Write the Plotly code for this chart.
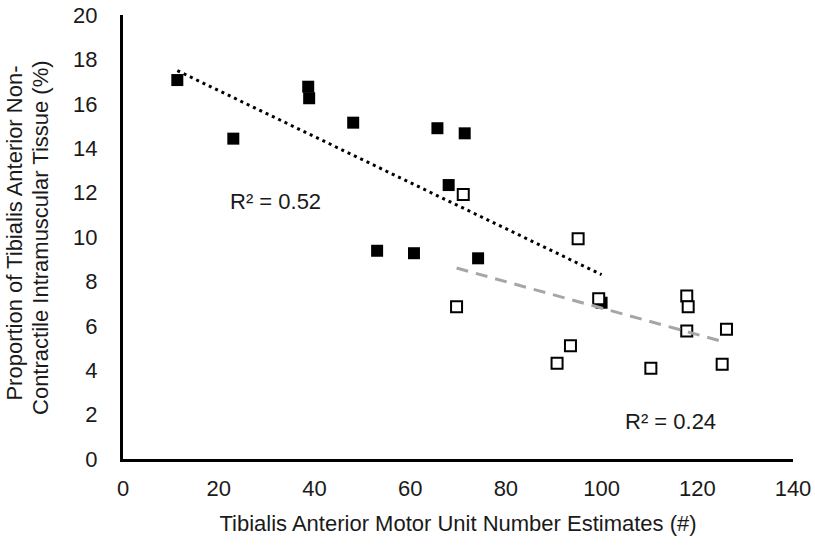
import numpy as np
import plotly.graph_objects as go

# Filled series (black squares)
filled_x = [11.35, 23.05, 38.7, 38.9, 48.1, 65.7, 71.4, 68.05, 53.1, 60.8, 74.2, 100.0]
filled_y = [17.07, 14.43, 16.77, 16.25, 15.15, 14.9, 14.67, 12.34, 9.38, 9.27, 9.04, 7.04]

# Open series (white squares)
open_x = [71.1, 95.1, 69.7, 99.4, 117.8, 118.1, 117.8, 126.1, 93.5, 90.7, 110.3, 125.2]
open_y = [11.92, 9.92, 6.86, 7.22, 7.34, 6.86, 5.77, 5.84, 5.10, 4.31, 4.09, 4.27]

r2_labels = ["R² = 0.52", "R² = 0.24"]
r2_pos_x = [31.8, 114.3]
r2_pos_y = [11.6, 1.67]

x_ticks = [0, 20, 40, 60, 80, 100, 120, 140]
y_ticks = [0, 2, 4, 6, 8, 10, 12, 14, 16, 18, 20]

x_title = "Tibialis Anterior Motor Unit Number Estimates (#)"
y_title_lines = ["Proportion of Tibialis Anterior Non-",
                 "Contractile Intramuscular Tissue (%)"]

FONT = "Liberation Sans, Arial, sans-serif"
FS = 22
TXT = "#1a1a1a"


def fit_line(xs, ys):
    m, b = np.polyfit(xs, ys, 1)
    lx = np.array([min(xs), max(xs)])
    return lx, m * lx + b


fig = go.Figure()

fig.add_trace(go.Scatter(
    x=filled_x, y=filled_y, mode="markers",
    marker=dict(symbol="square", size=12, color="black",
                line=dict(color="black", width=0)),
    showlegend=False))

fig.add_trace(go.Scatter(
    x=open_x, y=open_y, mode="markers",
    marker=dict(symbol="square", size=11, color="white",
                line=dict(color="black", width=2)),
    showlegend=False))

fx, fy = fit_line(filled_x, filled_y)
fig.add_trace(go.Scatter(
    x=fx, y=fy, mode="lines",
    line=dict(color="black", width=3, dash="3px,4px"),
    showlegend=False))

ox, oy = fit_line(open_x, open_y)
fig.add_trace(go.Scatter(
    x=ox, y=oy, mode="lines",
    line=dict(color="#a6a6a6", width=3, dash="12px,8px"),
    showlegend=False))

for t, ax_, ay_ in zip(r2_labels, r2_pos_x, r2_pos_y):
    fig.add_annotation(x=ax_, y=ay_, text=t, showarrow=False,
                       font=dict(family=FONT, size=FS, color=TXT))

# y-axis title as two rotated lines
for line_txt, px_, py_ in zip(y_title_lines, [-0.1612, -0.1239], [0.51, 0.50]):
    fig.add_annotation(xref="paper", yref="paper", x=px_, y=py_,
                       xanchor="center", yanchor="middle",
                       text=line_txt, textangle=-90, showarrow=False,
                       font=dict(family=FONT, size=FS, color=TXT))

fig.update_layout(
    width=815, height=545,
    margin=dict(l=123, r=22, t=15, b=86),
    paper_bgcolor="white", plot_bgcolor="white",
    font=dict(family=FONT, size=FS, color=TXT),
    showlegend=False,
)

fig.update_xaxes(
    range=[0, 140], tickvals=x_ticks, showgrid=False, zeroline=False,
    showline=True, linecolor="black", linewidth=3, automargin=False,
    ticks="", ticklabelstandoff=8, ticklabeloverflow="allow",
    tickfont=dict(family=FONT, size=FS, color=TXT),
    title=dict(text=x_title,
               font=dict(family=FONT, size=FS, color=TXT), standoff=16),
)

fig.update_yaxes(
    range=[0, 20], tickvals=y_ticks, showgrid=False, zeroline=False,
    showline=True, linecolor="black", linewidth=3, automargin=False,
    ticks="", ticklabelstandoff=18, ticklabeloverflow="allow",
    tickfont=dict(family=FONT, size=FS, color=TXT),
)

# remove the default 8px page margin so the figure fills the window exactly
fig.write_html("out.html", config={"displayModeBar": False},
               post_script="document.body.style.margin='0px';")
